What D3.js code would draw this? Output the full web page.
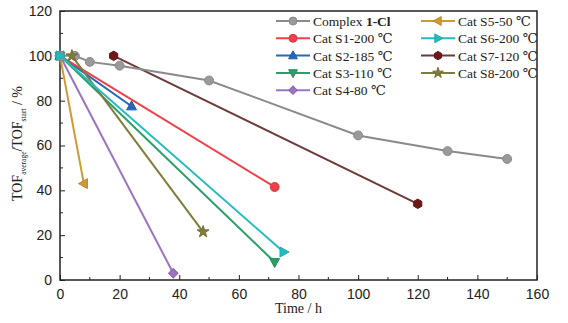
<!DOCTYPE html>
<html>
<head>
<script src="https://cdn.jsdelivr.net/npm/d3@7/dist/d3.min.js"></script>
<style>
  body { margin: 0; background: #fff; }
  svg { font-family: "Liberation Serif", "DejaVu Serif", serif; }
  .axis path, .axis line { stroke: #222; }
  .axis text { font-size: 14px; fill: #222; }
</style>
</head>
<body>
<svg id="chart"></svg>
<script>
// series data
var names = ["Complex 1-Cl", "Cat S1-200 ℃", "Cat S2-185 ℃", "Cat S3-110 ℃", "Cat S4-80 ℃",
             "Cat S5-50 ℃", "Cat S6-200 ℃", "Cat S7-120 ℃", "Cat S8-200 ℃"];
var xs = [
  [0, 5, 10, 20, 50, 100, 130, 150],
  [0, 72],
  [0, 24],
  [0, 72],
  [0, 38],
  [0, 8],
  [0, 75],
  [18, 120],
  [4, 48]
];
var ys = [
  [100, 100, 97.3, 95.6, 89, 64.5, 57.5, 54],
  [100, 41.5],
  [100, 77.5],
  [100, 8],
  [100, 3],
  [100, 43],
  [100, 12.5],
  [100, 34],
  [100, 21.5]
];
var lineColors = ["#8a8a8a", "#ef3f48", "#2468b8", "#2a9f68", "#9a74c0", "#cf9a30", "#22bcc0", "#6e3a3a", "#7f7d3a"];
var markColors = ["#9a9a9a", "#ef3f48", "#2468b8", "#2a9f68", "#9a74c0", "#cf9a30", "#22bcc0", "#6e1818", "#7f7d3a"];
var shapes = ["circle", "circle", "up", "down", "diamond", "left", "right", "hex", "star"];
var drawOrder = [4, 5, 2, 3, 1, 7, 0, 8, 6];
var xTicks = [0, 20, 40, 60, 80, 100, 120, 140, 160];
var yTicks = [0, 20, 40, 60, 80, 100, 120];

var W = 568, H = 323;
var m = { top: 11, left: 60, right: 31, bottom: 43 };
var w = W - m.left - m.right, h = H - m.top - m.bottom;

var svg = d3.select("#chart").attr("width", W).attr("height", H);
var g = svg.append("g").attr("transform", "translate(" + m.left + "," + m.top + ")");

var x = d3.scaleLinear().domain([0, 160]).range([0, w]);
var y = d3.scaleLinear().domain([0, 120]).range([h, 0]);

// minor ticks
g.append("g").selectAll("line").data(d3.range(10, 160, 20)).enter().append("line")
  .attr("x1", function (d) { return x(d); }).attr("x2", function (d) { return x(d); })
  .attr("y1", h).attr("y2", h - 3).attr("stroke", "#222");
g.append("g").selectAll("line").data(d3.range(10, 120, 20)).enter().append("line")
  .attr("y1", function (d) { return y(d); }).attr("y2", function (d) { return y(d); })
  .attr("x1", 0).attr("x2", 3).attr("stroke", "#222");

var xAxis = d3.axisBottom(x).tickValues(xTicks).tickSizeInner(-5).tickSizeOuter(0).tickPadding(9);
var gx = g.append("g").attr("class", "axis").attr("transform", "translate(0," + h + ")").call(xAxis);
gx.select(".domain").remove();

var yAxis = d3.axisLeft(y).tickValues(yTicks).tickSizeInner(-5).tickSizeOuter(0).tickPadding(8);
var gy = g.append("g").attr("class", "axis").call(yAxis);
gy.select(".domain").remove();

// frame
g.append("rect").attr("x", 0).attr("y", 0).attr("width", w).attr("height", h)
  .attr("fill", "none").attr("stroke", "#222").attr("stroke-width", 1.5);

// axis labels
svg.append("text").attr("x", m.left + w / 2).attr("y", 313).attr("text-anchor", "middle")
  .style("font-size", "14px").attr("fill", "#222").text("Time / h");
var yl = svg.append("text").attr("transform", "translate(22," + (m.top + h / 2 - 2) + ") rotate(-90)")
  .attr("text-anchor", "middle").style("font-size", "14px").attr("fill", "#222");
yl.append("tspan").text("TOF");
yl.append("tspan").attr("dy", 4).style("font-size", "7.5px").text("average");
yl.append("tspan").attr("dy", -4).text("/TOF");
yl.append("tspan").attr("dy", 4).style("font-size", "7.5px").text("start");
yl.append("tspan").attr("dy", -4).text(" / %");

function markPath(shape, s) {
  if (shape === "circle") return d3.symbol(d3.symbolCircle, s * s * 3.1)();
  if (shape === "diamond") return d3.symbol(d3.symbolSquare, s * s * 2.2)();
  if (shape === "star") return d3.symbol(d3.symbolStar, s * s * 2.2)();
  if (shape === "hex") {
    var p = [];
    for (var k = 0; k < 6; k++) { var a = Math.PI / 6 + k * Math.PI / 3; p.push([s * 1.05 * Math.cos(a), s * 1.05 * Math.sin(a)]); }
    return "M" + p.join("L") + "Z";
  }
  var t = { up: [[0, -s * 1.2], [s * 1.1, s * 0.8], [-s * 1.1, s * 0.8]],
            down: [[0, s * 1.2], [s * 1.1, -s * 0.8], [-s * 1.1, -s * 0.8]],
            left: [[-s * 1.2, 0], [s * 0.8, -s * 1.1], [s * 0.8, s * 1.1]],
            right: [[s * 1.2, 0], [-s * 0.8, -s * 1.1], [-s * 0.8, s * 1.1]] }[shape];
  return "M" + t.join("L") + "Z";
}
function drawMark(sel, i, cx, cy, s) {
  sel.append("path").attr("d", markPath(shapes[i], s))
    .attr("transform", "translate(" + cx + "," + cy + ")" + (shapes[i] === "diamond" ? " rotate(45)" : ""))
    .attr("fill", markColors[i]).attr("stroke", d3.color(markColors[i]).darker(0.3));
}

var line = d3.line().x(function (d) { return x(d[0]); }).y(function (d) { return y(d[1]); });
drawOrder.forEach(function (i) {
  var pts = d3.zip(xs[i], ys[i]);
  var sg = g.append("g");
  sg.append("path").datum(pts).attr("d", line).attr("fill", "none")
    .attr("stroke", lineColors[i]).attr("stroke-width", 2);
  pts.forEach(function (p) { drawMark(sg, i, x(p[0]), y(p[1]), 4.5); });
});

// legend
var lg = svg.append("g").style("font-size", "13.5px");
names.forEach(function (n, i) {
  var col = i < 5 ? 0 : 1, row = i < 5 ? i : i - 5;
  var lx = col === 0 ? 276 : 421, ly = 21 + row * 17.3;
  lg.append("line").attr("x1", lx).attr("x2", lx + 34).attr("y1", ly).attr("y2", ly)
    .attr("stroke", lineColors[i]).attr("stroke-width", 2);
  drawMark(lg, i, lx + 17, ly, 4);
  var t = lg.append("text").attr("x", lx + 37).attr("y", ly + 5).attr("fill", "#222");
  if (i === 0) {
    t.append("tspan").text("Complex ");
    t.append("tspan").style("font-weight", "bold").text("1-Cl");
  } else {
    t.text(n);
  }
});
</script>
</body>
</html>
